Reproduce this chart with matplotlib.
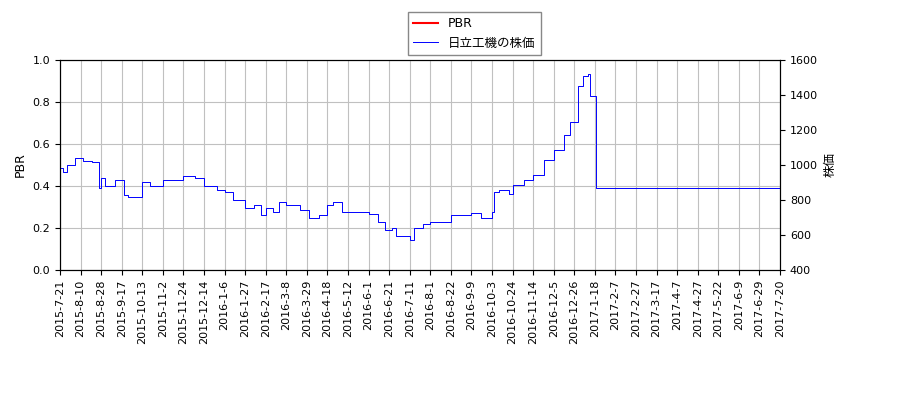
import matplotlib
matplotlib.use("Agg")
import matplotlib.pyplot as plt
import numpy as np
import pandas as pd

plt.rcParams['font.family'] = ['DejaVu Sans', 'Noto Sans CJK JP']

dates = ["2015-7-21","2015-7-24","2015-7-28","2015-8-5","2015-8-12","2015-8-20","2015-8-26","2015-8-28","2015-9-1","2015-9-10","2015-9-20","2015-9-25",
         "2015-10-13","2015-10-20","2015-11-2","2015-11-24","2015-12-5","2015-12-14","2015-12-28","2016-1-6","2016-1-15","2016-1-27",
         "2016-2-5","2016-2-12","2016-2-17","2016-2-24","2016-3-1","2016-3-8","2016-3-22","2016-3-31","2016-4-10","2016-4-18","2016-4-25",
         "2016-5-5","2016-5-12","2016-6-1","2016-6-10","2016-6-17","2016-6-24","2016-6-28","2016-7-11","2016-7-15","2016-7-25","2016-8-1",
         "2016-8-22","2016-9-9","2016-9-20","2016-10-3","2016-10-5","2016-10-10","2016-10-20","2016-10-24","2016-11-5","2016-11-14",
         "2016-11-25","2016-12-5","2016-12-15","2016-12-22","2016-12-26","2016-12-30","2017-1-5","2017-1-10","2017-1-12","2017-1-18",
         "2017-1-19","2017-3-1","2017-4-1","2017-5-1","2017-6-1","2017-7-20"]
price = [983,960,1000,1040,1020,1017,870,926,880,914,830,817,
         903,880,914,937,926,880,857,846,800,754,
         771,714,754,731,789,771,743,697,714,771,789,
         731,731,720,674,629,640,594,571,640,663,674,
         714,726,697,731,846,857,834,886,914,943,
         1029,1086,1171,1246,1246,1451,1509,1520,1394,1394,
         869,869,866,869,869,869]
pbr = []

ticklabels = ["2015-7-21","2015-8-10","2015-8-28","2015-9-17","2015-10-13","2015-11-2","2015-11-24","2015-12-14","2016-1-6","2016-1-27",
              "2016-2-17","2016-3-8","2016-3-29","2016-4-18","2016-5-12","2016-6-1","2016-6-21","2016-7-11","2016-8-1","2016-8-22",
              "2016-9-9","2016-10-3","2016-10-24","2016-11-14","2016-12-5","2016-12-26","2017-1-18","2017-2-7","2017-2-27","2017-3-17",
              "2017-4-7","2017-4-27","2017-5-22","2017-6-9","2017-6-29","2017-7-20"]

d = pd.to_datetime(dates)
td = pd.to_datetime(ticklabels)
# trading-day index: ticks are equally spaced in the reference
tick_idx = np.arange(len(td)) * 14.0
def to_idx(ts):
    t = ts.values.astype('datetime64[D]').astype(float)
    tt = td.values.astype('datetime64[D]').astype(float)
    return np.interp(t, tt, tick_idx)
x = to_idx(d)

fig = plt.figure(figsize=(9, 4), dpi=100)
ax = fig.add_axes([0.0667, 0.325, 0.8, 0.525])
ax2 = ax.twinx()
l1, = ax.plot([], [], color='red', label='PBR')
l2, = ax2.step(x, price, where='post', color='blue', lw=0.7, label='日立工機の株価')
ax.set_ylim(0, 1.0)
ax2.set_ylim(400, 1600)
ax.set_xlim(tick_idx[0], tick_idx[-1])
ax.set_xticks(tick_idx)
ax.set_xticklabels(ticklabels, rotation=90, fontsize=8)
ax.tick_params(axis='y', labelsize=8)
ax2.tick_params(axis='y', labelsize=8)
ax.grid(True, color='#c0c0c0')
ax.set_ylabel('PBR', fontsize=9)
ax2.set_ylabel('株価', fontsize=9)
fig.legend(handles=[l1, l2], loc='upper center', bbox_to_anchor=(0.527, 0.985), fontsize=9, framealpha=1, edgecolor='#888888', fancybox=False)
fig.savefig('out.png')
